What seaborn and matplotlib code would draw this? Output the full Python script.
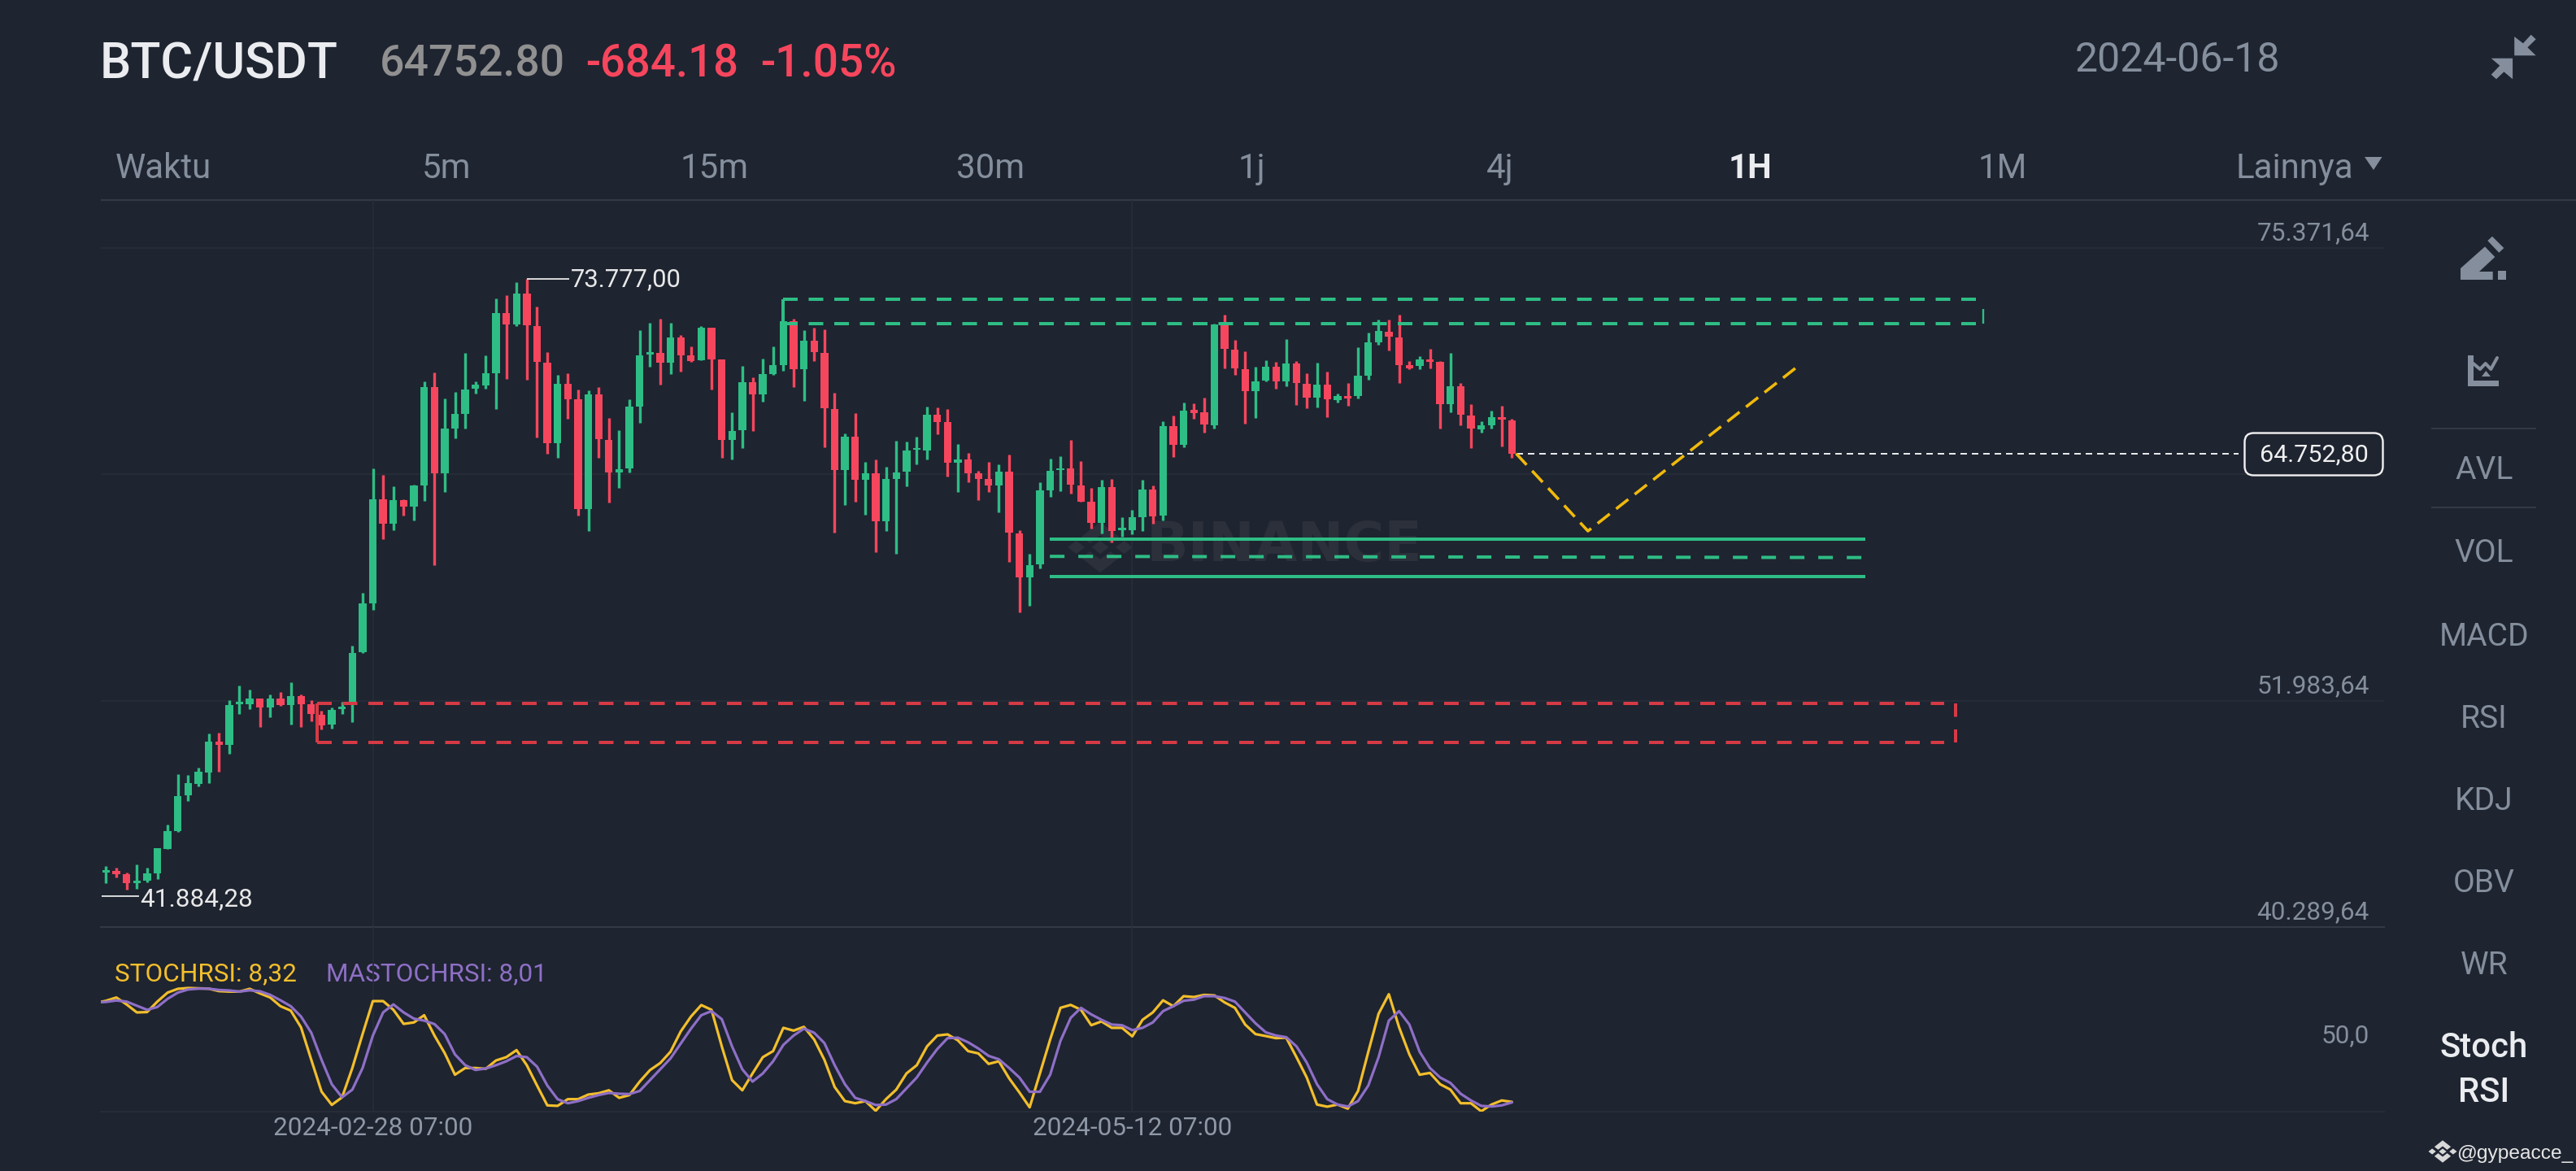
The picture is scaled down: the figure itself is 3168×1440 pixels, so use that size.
import matplotlib
matplotlib.use("Agg")
import matplotlib.pyplot as plt
from matplotlib.patches import Polygon, FancyBboxPatch
from matplotlib.transforms import ScaledTranslation
import numpy as np
import pandas as pd
import seaborn as sns

# ---------- data ----------
opens = [43114,43182,43002,42574,42687,43069,44307,45252,47097,47682,48289,49887,49707,51822,51822,52114,51619,52114,51777,52227,
51822,51237,50742,51552,51822,54477,56997,62397,61137,62352,61992,63094,68202,63724,66042,66807,68112,68269,68922,72027,
71419,73017,71352,69462,65299,68337,67572,61902,67797,65457,63792,63972,67189,69870,69954,69450,70738,69814,69562,71242,
69618,65446,65950,68442,67798,68862,69310,71578,69114,70570,69954,67070,63906,65614,63402,63738,61274,63458,63822,64942,
64914,66762,66370,64270,64438,63738,63430,63122,63822,60630,58362,59034,62870,63906,63990,63122,62282,61190,63038,60798,
60798,61470,62898,61554,66174,65194,67014,66874,66230,71438,70122,69114,67966,68526,69226,68498,69394,68358,67658,68302,
67518,67728,67742,68778,70486,71060,70766,69310,69282,69618,69506,67322,68232,66734,66006,66202,66622,66482]
highs = [43452,43362,43092,43542,43362,44352,45567,48177,48132,48537,50292,50337,52002,52767,52542,52114,52317,52452,52947,52317,
52002,51462,51642,51912,54837,57537,63972,63657,63072,62397,63162,68472,68944,67594,67932,69957,68494,69844,72747,72949,
73602,73777,72364,70002,68832,68922,68067,68022,68202,66582,65952,67572,71127,71522,71732,71494,70878,70290,71326,71242,
69618,66874,69282,68694,69646,70290,71592,71718,71130,71270,71186,67882,65782,66832,64312,64452,64074,65418,65362,65642,
67182,67154,67042,65250,64774,63878,64326,64186,64690,60798,59594,63290,64494,64606,65474,64382,62982,63402,63430,61470,
61862,63402,63094,66412,66706,67406,67350,67658,71452,71942,70626,70038,69226,69562,69506,70654,69534,68890,69450,69002,
67854,68414,70234,71018,71690,71662,71942,69534,69786,70150,69534,69954,68414,67322,66426,66958,67238,66538]
lows = [42552,42844,42237,42282,42597,42777,44307,45207,46782,47547,47727,48312,49257,51282,51552,50607,51147,51732,50742,50607,
50922,50517,50562,51282,50877,54432,56682,60327,60777,61542,61317,62307,58977,62757,65547,66042,67842,68089,67032,68607,
71352,68562,65592,64737,64512,66537,61542,60732,64512,62239,62982,63792,66357,69254,68330,68862,68974,69506,69562,68050,
64522,64466,65054,65922,67434,68806,69030,68190,67490,69534,65082,60658,62114,62254,61582,59650,60770,59594,63066,64214,
64466,65754,63570,62758,63262,62366,62758,61722,59174,56542,56906,58810,62506,62814,62702,62254,60882,60630,60182,60462,
60602,60742,61134,61302,64592,65082,66566,65838,66062,69142,68806,66286,66594,68498,68106,68246,67266,67098,67126,66650,
67406,67238,67602,68554,70374,70094,68414,69114,69114,69142,66034,66902,66230,65054,65838,66034,65110,64550]
closes = [43227,43002,42552,42687,43069,44352,45252,47074,47727,48312,49887,49707,51777,51912,52114,51642,52114,51777,52227,51822,
51282,50697,51507,51687,54432,56997,62397,61137,62352,61992,63094,68202,63724,66042,66784,68067,68292,68922,72027,71419,
73017,71374,69484,65299,68337,67572,61902,67797,65479,63769,63927,67167,69822,69982,69450,70738,69842,69534,71270,69632,
65446,65922,68442,67798,68862,69310,71578,69114,70598,69982,67098,63906,65642,63402,63738,61274,63430,63766,64914,65054,
66762,66398,64270,64466,63738,63458,63094,63822,60658,58362,59006,62842,63850,63990,63150,62282,61190,63038,60742,60910,
61470,62898,61526,66174,65222,66986,66846,66258,71438,70150,69142,67966,68498,69254,68498,69394,68386,67658,68302,67546,
67742,67616,68778,70486,71074,70794,69338,69170,69618,69478,67322,68232,66762,66034,66202,66650,66510,64752.8]
stoch_rsi = [68.7,70.0,72.0,67.8,62.9,63.1,69.5,75.0,77.3,77.8,77.6,77.4,75.9,75.6,75.6,77.3,74.5,72.0,66.7,64.0,
53.8,34.0,14.6,6.5,11.1,29.0,49.7,69.8,69.8,64.5,55.9,56.8,61.2,48.8,38.1,24.9,29.0,29.0,28.5,33.6,
35.6,39.9,30.7,18.3,6.2,5.9,10.0,10.0,12.8,13.6,15.4,10.8,12.5,20.7,27.7,32.0,38.9,51.3,60.4,67.4,
64.5,42.2,21.6,15.4,25.7,35.6,39.3,53.5,51.8,54.1,46.4,34.0,17.4,8.8,7.5,8.8,2.9,10.0,15.8,25.7,
30.7,42.2,48.8,49.5,45.9,39.3,37.9,31.5,33.1,22.7,14.1,5.0,25.7,46.4,65.7,67.5,64.5,55.1,57.4,53.5,
53.5,48.3,58.4,62.9,70.3,66.7,72.8,72.3,73.6,73.3,69.0,65.7,55.5,49.7,48.5,47.2,47.5,35.6,23.2,6.7,
5.4,6.7,4.2,15.0,38.9,62.1,74.0,53.8,37.3,24.9,26.0,19.1,15.8,7.5,7.5,2.6,6.7,9.2,8.32]
ma_stoch_rsi = [69.0,69.3,70.2,69.5,67.0,64.5,66.2,71.2,75.0,76.9,77.4,77.4,76.6,76.3,75.6,76.4,75.8,73.6,70.3,66.7,
60.4,50.5,34.0,19.1,11.1,15.8,29.0,48.8,62.9,67.8,62.9,59.1,57.9,55.8,49.7,37.3,30.7,27.8,28.7,30.7,
33.1,36.3,35.6,29.8,18.3,10.0,7.5,8.8,10.8,12.5,13.8,13.3,13.1,15.0,21.6,28.2,34.8,43.9,53.0,61.2,
63.7,58.8,42.2,28.2,20.7,25.7,33.1,43.1,48.8,53.0,50.5,44.2,30.7,19.1,10.8,8.8,6.4,6.7,10.0,16.6,
23.2,32.3,40.6,47.2,47.5,44.7,40.9,36.4,34.3,29.0,23.2,14.5,14.5,24.9,45.5,59.6,65.7,61.7,58.4,55.5,
55.1,52.1,53.5,56.8,63.7,66.7,70.0,70.7,72.8,72.8,71.7,69.5,62.9,56.3,50.8,48.8,47.8,42.2,32.3,19.1,
10.0,6.7,5.5,8.8,18.3,35.6,57.9,63.7,55.5,38.9,29.0,23.2,19.9,13.3,9.2,5.9,5.5,6.2,8.01]

price_ticks = [75371.64, 63677.64, 51983.64, 40289.64]
price_tick_labels = ["75.371,64", "", "51.983,64", "40.289,64"]
date_ticks = [27, 101]
date_labels = ["2024-02-28 07:00", "2024-05-12 07:00"]
tabs = ["Waktu", "5m", "15m", "30m", "1j", "4j", "1H", "1M", "Lainnya"]
side_labels = ["AVL", "VOL", "MACD", "RSI", "KDJ", "OBV", "WR"]

resistance_zone = [72712, 71480]
support_zone = [60347, 59410, 58398]
demand_zone = [51844, 49827]
projection_x = [138.4, 145.4, 166.1]
projection_y = [64752.8, 60751, 69364]
last_price = 64752.80

# ---------- style ----------
BG = "#1E2430"; GREEN = "#2EBD85"; RED = "#F6465D"; ZRED = "#D63A45"; YEL = "#F0B90B"
PUR = "#8E6FC6"; GREY = "#848E9C"; GRID = "#262C38"; LINE = "#333A46"
sns.set_theme(style="dark")
plt.rcParams["font.family"] = ["Roboto", "DejaVu Sans"]
plt.rcParams["lines.scale_dashes"] = False
W, H = 3168, 1440
PX = 0.72  # px -> pt at dpi 100
fig = plt.figure(figsize=(W / 100, H / 100), dpi=100, facecolor=BG)

def axes_px(x0, y0, x1, y1, **kw):
    return fig.add_axes([x0 / W, 1 - y1 / H, (x1 - x0) / W, (y1 - y0) / H], **kw)

# UI layer behind
ui = fig.add_axes([0, 0, 1, 1], zorder=0, facecolor=BG)
ui.set_xlim(0, W); ui.set_ylim(H, 0); ui.axis("off")

def txt(x, y, s, px, color=GREY, ha="center", weight="normal", family=None):
    kw = {"family": family} if family else {}
    ui.text(x, y + 0.09 * px, s, fontsize=px * PX, color=color, ha=ha, va="center", weight=weight, **kw)

def poly(pts, color=GREY, fill=True, lw=0):
    ui.add_patch(Polygon(pts, closed=True, facecolor=color, edgecolor=color, linewidth=lw))

def binance_logo(cx, cy, sx, sy, color):
    for dx, dy in [(-28, 0), (0, 0), (28, 0)]:
        poly([(cx + (dx - 10) * sx, cy), (cx + dx * sx, cy - 10 * sy), (cx + (dx + 10) * sx, cy), (cx + dx * sx, cy + 10 * sy)], color)
    for m in (1, -1):
        poly([(cx, cy - m * 38 * sy), (cx + 22 * sx, cy - m * 16 * sy), (cx + 12 * sx, cy - m * 6 * sy), (cx, cy - m * 18 * sy),
              (cx - 12 * sx, cy - m * 6 * sy), (cx - 22 * sx, cy - m * 16 * sy)], color)

txt(123, 74, "BTC/USDT", 61, "#EAECEF", ha="left", weight="medium")
txt(467, 74, "64752.80", 53.5, "#909090", ha="left", weight="medium")
txt(720, 74, "-684.18", 54.5, RED, ha="left", weight="medium")
txt(935, 74, "-1.05%", 55, RED, ha="left", weight="medium")
txt(2678, 70, "2024-06-18", 50)
poly([(3092.2, 45), (3102.9, 53.3), (3112.7, 42.7), (3118.7, 48.3), (3108.4, 58.3), (3118.7, 68.3), (3092.2, 68.3)])
poly([(3090.1, 71.7), (3090.1, 97.3), (3079.4, 88.3), (3070, 97.3), (3063.7, 91.7), (3074.3, 80.7), (3063.7, 71.7)])

tab_x = [201, 549, 879, 1218, 1539, 1845, 2152, 2463, 2822]
for s, x in zip(tabs, tab_x):
    active = s == "1H"
    txt(x, 204, s, 42, "#EAECEF" if active else GREY, weight="bold" if active else "normal")
poly([(2908, 193), (2929.5, 193), (2919, 209)])
ui.plot([124, W], [246, 246], color=LINE, lw=2.2 * PX, solid_capstyle="butt")

# sidebar
poly([(3026, 330), (3056, 303.3), (3068.3, 316), (3049, 334), (3065.7, 334), (3065.7, 344), (3026, 344)])
poly([(3059.3, 296), (3065, 290.7), (3079.3, 305), (3073.3, 310.7)])
poly([(3071.7, 333.3), (3082.3, 333.3), (3082.3, 344), (3071.7, 344)])
poly([(3035, 436.7), (3041.7, 436.7), (3041.7, 467.7), (3072.7, 467.7), (3072.7, 475), (3035, 475)])
ui.plot([3041.7, 3050, 3056.7, 3063.3, 3071], [447, 454, 447, 454, 440], color=GREY, lw=4 * PX)
poly([(3052, 463), (3063, 463), (3057.3, 456)])
for y in (527, 624):
    ui.plot([2990, 3119], [y, y], color=LINE, lw=2 * PX, solid_capstyle="butt")
for s, y in zip(side_labels, [575, 677, 780, 881, 982, 1083, 1184]):
    txt(3055, y, s, 39)
txt(3055, 1285, "Stoch", 42, "#EAECEF", weight="medium")
txt(3055, 1340, "RSI", 42, "#EAECEF", weight="medium")
txt(3021, 1417, "@gypeacce_", 24.5, "#E6E6E6", ha="left", family="Liberation Sans")
binance_logo(3004, 1416, 0.46, 0.36, "#D8D8D8")

# watermark
txt(1580, 665, "BINANCE", 68, "#2B303B", weight="bold", family="DejaVu Sans")
binance_logo(1353, 673, 1.05, 0.82, "#2B303B")

# ---------- main chart ----------
XLIM = (0.493, 222.98)
df = pd.DataFrame({"idx": np.arange(1, len(opens) + 1), "open": opens, "high": highs, "low": lows, "close": closes})
colors = np.where(df["close"] >= df["open"], GREEN, RED)

ax = axes_px(124, 246, 2932, 1140, zorder=2)
ax.patch.set_alpha(0)
ax.vlines(df["idx"], df["low"], df["high"], colors=colors, lw=3.4 * PX, zorder=3)
ax.bar(df["idx"], (df["close"] - df["open"]).abs(), bottom=df[["open", "close"]].min(axis=1), width=0.74, color=colors, linewidth=0, zorder=3)

dash = (0, (18 * PX, 13.5 * PX))
zone = dict(lw=4 * PX, dash_capstyle="butt", solid_capstyle="butt", zorder=4)
ax.plot([67, 183.26], [resistance_zone[0]] * 2, color=GREEN, ls=dash, **zone)
ax.plot([67, 183.26], [resistance_zone[1]] * 2, color=GREEN, ls=dash, **zone)
ax.plot([67, 67], resistance_zone, color=GREEN, **zone)
ax.plot([183.93, 183.93], [72220, resistance_zone[1]], color=GREEN, lw=2.4 * PX, solid_capstyle="butt", zorder=4)
ax.plot([21.57, 180.12], [demand_zone[0]] * 2, color=ZRED, ls=dash, **zone)
ax.plot([21.57, 180.12], [demand_zone[1]] * 2, color=ZRED, ls=dash, **zone)
ax.plot([21.57, 21.57], demand_zone, color=ZRED, **zone)
ax.plot([181.2, 181.2], demand_zone, color=ZRED, ls=(0, (16.5 * PX, 15.5 * PX)), **zone)
ax.plot([92.97, 172.44], [support_zone[0]] * 2, color=GREEN, **zone)
ax.plot([92.97, 172.05], [support_zone[1] + 30, support_zone[1] - 30], color=GREEN, ls=(0, (18 * PX, 17 * PX)), **zone)
ax.plot([92.97, 172.44], [support_zone[2]] * 2, color=GREEN, **zone)
ax.plot(projection_x, projection_y, color=YEL, lw=3.6 * PX, ls=(0, (19 * PX, 10 * PX)), dash_capstyle="butt", zorder=4)
ax.plot([138.4, 208.8], [last_price] * 2, color="#E6E8EA", lw=2 * PX, ls=(0, (8 * PX, 6 * PX)), dash_capstyle="butt", zorder=2)

ax.plot([42, 46.1], [73777, 73777], color="#E8E8E8", lw=1.8 * PX, solid_capstyle="butt", zorder=4)
ax.text(46.3, 73760, "73.777,00", color="#E8E8E8", fontsize=31 * PX, ha="left", va="center", zorder=5)
ax.plot([0.55, 4.2], [41884.28, 41884.28], color="#E8E8E8", lw=1.8 * PX, solid_capstyle="butt", zorder=4)
ax.text(4.3, 41750, "41.884,28", color="#E8E8E8", fontsize=31.5 * PX, ha="left", va="center", zorder=5)

ax.set_xlim(*XLIM)
ax.set_ylim(40289.64, 77850)
ax.set_yticks(price_ticks)
ax.set_yticklabels(price_tick_labels)
ax.set_xticks(date_ticks)
ax.set_xticklabels([])
ax.grid(True, color=GRID, lw=1.8 * PX)
ax.set_axisbelow(True)
ax.tick_params(axis="y", which="both", length=0, left=False, right=False, labelleft=False, labelright=True,
               pad=-18 * PX, labelsize=31.5 * PX, labelcolor=GREY)
ax.tick_params(axis="x", length=0)
up = ScaledTranslation(0, 4 / 100, fig.dpi_scale_trans)
for lab in ax.get_yticklabels():
    lab.set_ha("right"); lab.set_va("bottom")
    lab.set_transform(lab.get_transform() + up)
for s, sp in ax.spines.items():
    sp.set_visible(s == "bottom")
    sp.set_color(LINE); sp.set_linewidth(2 * PX)

# last price badge
ui2 = fig.add_axes([0, 0, 1, 1], zorder=3)
ui2.patch.set_alpha(0); ui2.set_xlim(0, W); ui2.set_ylim(H, 0); ui2.axis("off")
ui2.add_patch(FancyBboxPatch((2772, 544), 147, 29, boxstyle="round,pad=11.5,rounding_size=11",
                             facecolor=BG, edgecolor="#F0F0F0", linewidth=2.4 * PX))
ui2.text(2845.5, 560, "64.752,80", color="#F0F0F0", fontsize=30.5 * PX, ha="center", va="center")

# ---------- indicator ----------
ind = pd.DataFrame({"idx": np.arange(len(stoch_rsi)), "stoch": stoch_rsi, "ma": ma_stoch_rsi})
ax2 = axes_px(124, 1140, 2932, 1367, zorder=2)
ax2.patch.set_alpha(0)
sns.lineplot(data=ind, x="idx", y="stoch", ax=ax2, color="#F2BE2C", lw=3.2 * PX, estimator=None, zorder=3)
sns.lineplot(data=ind, x="idx", y="ma", ax=ax2, color=PUR, lw=3.2 * PX, estimator=None, zorder=4)
ax2.set_xlabel(""); ax2.set_ylabel("")
ax2.set_xlim(*XLIM)
ax2.set_ylim(2.38, 114.98)
ax2.set_xticks(date_ticks)
ax2.set_xticklabels(date_labels)
ax2.set_yticks([50])
ax2.set_yticklabels(["50,0"])
ax2.grid(False)
ax2.xaxis.grid(True, color=GRID, lw=1.8 * PX)
ax2.set_axisbelow(True)
ax2.tick_params(axis="x", length=0, pad=4.5, labelsize=31.5 * PX, labelcolor="#8F98A6")
ax2.tick_params(axis="y", length=0, left=False, labelleft=False, labelright=True, pad=-18 * PX, labelsize=31.5 * PX, labelcolor=GREY)
for lab in ax2.get_yticklabels():
    lab.set_ha("right")
for s, sp in ax2.spines.items():
    sp.set_visible(s == "bottom")
    sp.set_color(GRID); sp.set_linewidth(2.2 * PX)
txt(141, 1195, "STOCHRSI: 8,32", 31.5, "#F2BE2C", ha="left")
txt(401, 1195, "MASTOCHRSI: 8,01", 31.5, PUR, ha="left")

fig.savefig("out.png", dpi=100, facecolor=BG)
